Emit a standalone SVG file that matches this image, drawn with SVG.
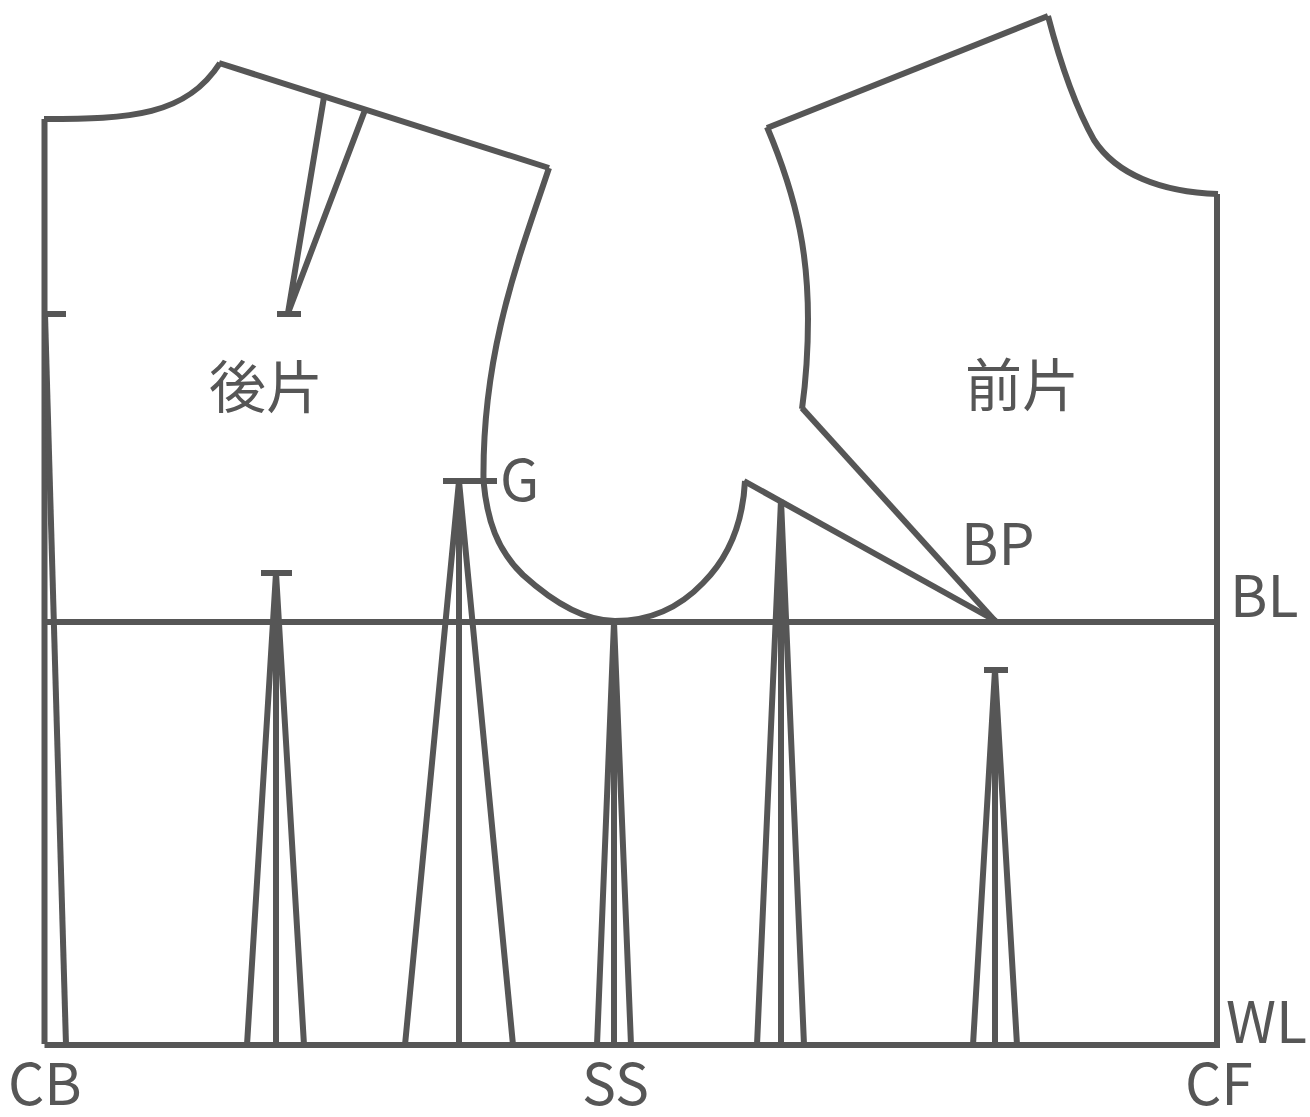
<svg xmlns="http://www.w3.org/2000/svg" width="1310" height="1117" viewBox="0 0 1310 1117">
<style>
.l{fill:none;stroke:#565656;stroke-width:6;stroke-linejoin:miter;stroke-linecap:butt}
text{font-family:"Noto Sans CJK JP","Noto Sans CJK TC","Noto Sans",sans-serif;fill:#565656;font-size:57px}
</style>
<rect width="1310" height="1117" fill="#fff"/>
<g id="back" class="l">
<path d="M44.500 1044V119"/>
<path d="M44 119C130 119 186 116 220 63"/>
<path d="M219 63L549 168"/>
<path d="M549 168C520 255 482 350 483.500 481"/>
<path d="M483.500 481C487 520 497 550 523 575C555 604 585 621 615 621"/>
<path d="M324 97L288 313M365 110L288 313"/>
<path d="M45 314H66M277 314H301"/>
<path d="M443 481H497"/>
<path d="M45 314L66 1045"/>
<path d="M261 573H292M276 573V1045M276 573L247 1045M276 573L304 1045"/>
<path d="M459 481V1045M459 481L405 1045M459 481L513 1045"/>
</g>
<g id="front" class="l">
<path d="M1217 1045V194"/>
<path d="M1218 194C1160 192 1116 174 1094 140C1076 108 1060 62 1048 16"/>
<path d="M1048 16L767 128"/>
<path d="M767 127C800 205 808 260 808 320"/>
<path d="M808 318C808 350 806 380 802 409"/>
<path d="M802 408L996 622"/>
<path d="M996 621L744 481"/>
<path d="M745 481C743 520 731 555 703 583C680 607 650 621 615 621"/>
<path d="M984 670H1008M995 670V1045M995 670L973 1045M995 670L1017 1045"/>
<path d="M781 500V1045M781 500L757 1045M781 500L804 1045"/>
<path d="M614 622V1045M614 622L597 1045M614 622L631 1045"/>
</g>
<g id="lines" class="l">
<path d="M42 622H1217M44.500 1045H1220"/>
</g>
<g id="labels">
<text x="209" y="408">後片</text>
<text x="965" y="406">前片</text>
<text x="500" y="501">G</text>
<text x="961" y="565">BP</text>
<text x="1230" y="617">BL</text>
<text x="1226" y="1043">WL</text>
<text x="8" y="1105">CB</text>
<text x="582" y="1105">SS</text>
<text x="1185" y="1105">CF</text>
</g>
</svg>
